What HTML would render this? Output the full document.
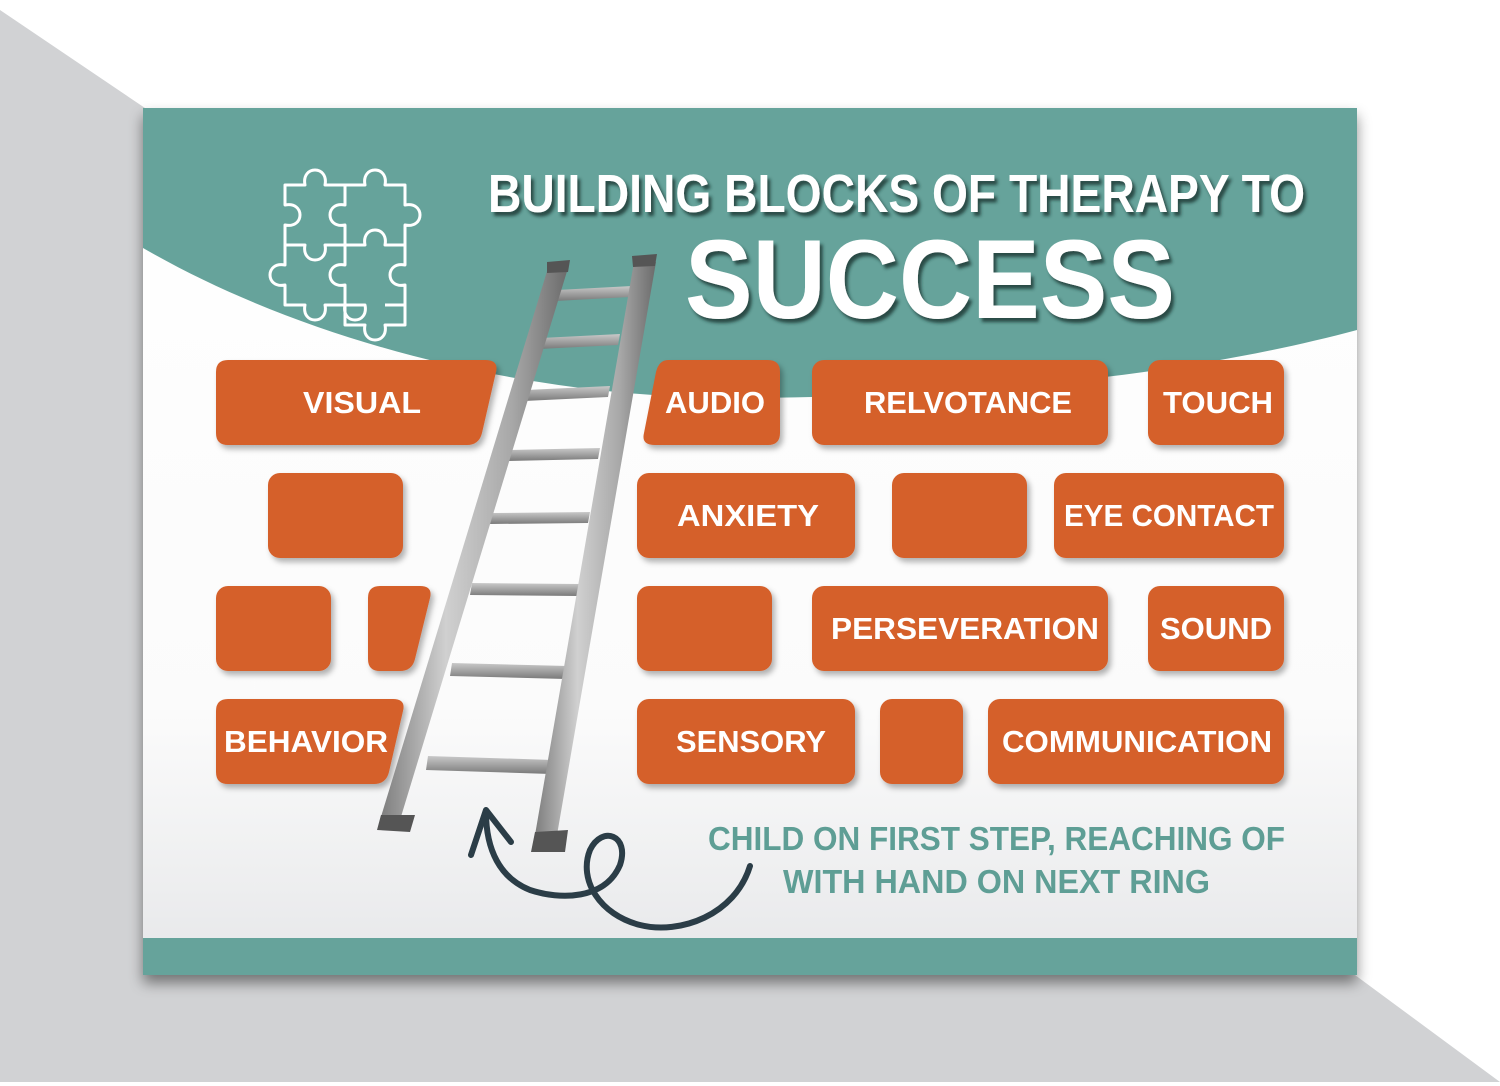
<!DOCTYPE html>
<html><head><meta charset="utf-8"><style>
html,body{margin:0;padding:0;background:#fff;}
svg{display:block}
text{font-family:"Liberation Sans",sans-serif;font-weight:bold;}
</style></head><body>
<svg width="1500" height="1086" viewBox="0 0 1500 1086" xmlns="http://www.w3.org/2000/svg">
<defs>
<linearGradient id="cg" x1="0" y1="0" x2="0" y2="1">
<stop offset="0" stop-color="#ffffff"/><stop offset="0.7" stop-color="#fbfbfb"/><stop offset="1" stop-color="#e6e7e9"/></linearGradient>
<linearGradient id="rail" x1="0" y1="0" x2="1" y2="0">
<stop offset="0" stop-color="#7d7d7d"/><stop offset="0.35" stop-color="#d0d0d0"/><stop offset="0.7" stop-color="#a8a8a8"/><stop offset="1" stop-color="#6b6b6b"/></linearGradient>
<linearGradient id="rung" x1="0" y1="0" x2="0" y2="1">
<stop offset="0" stop-color="#c9c9c9"/><stop offset="1" stop-color="#7a7a7a"/></linearGradient>
<filter id="sh" x="-10%" y="-10%" width="130%" height="140%"><feDropShadow dx="3" dy="4" stdDeviation="3" flood-color="#000" flood-opacity="0.3"/></filter>
<filter id="csh" x="-5%" y="-5%" width="110%" height="115%"><feDropShadow dx="0" dy="8" stdDeviation="7" flood-color="#000" flood-opacity="0.45"/></filter>
<filter id="tsh"><feDropShadow dx="3" dy="4" stdDeviation="1.5" flood-color="#1d3633" flood-opacity="0.8"/></filter>
</defs>
<polygon points="0,10 145,108 145,975 1355,975 1500,1082 0,1082" fill="#d1d2d4"/>
<rect x="143" y="108" width="1214" height="867" fill="url(#cg)" filter="url(#csh)"/>
<path d="M143,108 H1357 V330 C1200,372 1000,396 750,398 C550,400 320,350 143,248 Z" fill="#66a39b"/>
<rect x="143" y="938" width="1214" height="37" fill="#66a39b"/>
<g fill="none" stroke="#fff" stroke-width="3" stroke-linejoin="round">
<path d="M285,185 h20 c-4,-20 24,-20 20,0 h20 v20 c-20,-4 -20,24 0,20 v20 h-20 c4,20 -24,20 -20,0 h-20 v-20 c20,4 20,-24 0,-20 z"/>
<path d="M345,185 h20 c-4,-20 24,-20 20,0 h20 v20 c20,-4 20,24 0,20 v20 h-20 c4,-20 -24,-20 -20,0 h-20"/>
<path d="M285,245 v20 c-20,-4 -20,24 0,20 v20 h20 c-4,20 24,20 20,0 h20 v-20 c-20,4 -20,-24 0,-20 v-20"/>
<path d="M345,305 h20 c4,20 -24,20 -20,0 M385,305 h20 v-20 c-20,4 -20,-24 0,-20 v-20 M345,305 v20 h20 c-4,20 24,20 20,0 h20 v-20"/>
</g>
<g filter="url(#tsh)" fill="#fff">
<text x="488" y="212" font-size="54" textLength="817" lengthAdjust="spacingAndGlyphs">BUILDING BLOCKS OF THERAPY TO</text>
<text x="685" y="318" font-size="112" textLength="490" lengthAdjust="spacingAndGlyphs">SUCCESS</text>
</g>
<g fill="#d5602a" filter="url(#sh)">
<path d="M228,360 H485 Q499,360 496,372 L482,433 Q479,445 467,445 H228 Q216,445 216,433 V372 Q216,360 228,360 Z"/>
<path d="M668,360 H768 Q780,360 780,372 V433 Q780,445 768,445 H655 Q641,445 644,433 L656,372 Q659,360 668,360 Z"/>
<rect x="812" y="360" width="296" height="85" rx="12"/>
<rect x="1148" y="360" width="136" height="85" rx="12"/>
<rect x="268" y="473" width="135" height="85" rx="12"/>
<rect x="637" y="473" width="218" height="85" rx="12"/>
<rect x="892" y="473" width="135" height="85" rx="12"/>
<rect x="1054" y="473" width="230" height="85" rx="12"/>
<rect x="216" y="586" width="115" height="85" rx="12"/>
<path d="M380,586 H420 Q433,586 430,598 L415,659 Q412,671 400,671 H380 Q368,671 368,659 V598 Q368,586 380,586 Z"/>
<rect x="637" y="586" width="135" height="85" rx="12"/>
<rect x="812" y="586" width="296" height="85" rx="12"/>
<rect x="1148" y="586" width="136" height="85" rx="12"/>
<path d="M228,699 H393 Q406,699 403,711 L389,772 Q386,784 374,784 H228 Q216,784 216,772 V711 Q216,699 228,699 Z"/>
<rect x="637" y="699" width="218" height="85" rx="12"/>
<rect x="880" y="699" width="83" height="85" rx="12"/>
<rect x="988" y="699" width="296" height="85" rx="12"/>
</g>
<g fill="#fff" font-size="31" text-anchor="middle">
<text x="362" y="413" textLength="118" lengthAdjust="spacingAndGlyphs">VISUAL</text>
<text x="715" y="413" textLength="100" lengthAdjust="spacingAndGlyphs">AUDIO</text>
<text x="968" y="413" textLength="208" lengthAdjust="spacingAndGlyphs">RELVOTANCE</text>
<text x="1218" y="413" textLength="110" lengthAdjust="spacingAndGlyphs">TOUCH</text>
<text x="748" y="526" textLength="142" lengthAdjust="spacingAndGlyphs">ANXIETY</text>
<text x="1169" y="526" textLength="210" lengthAdjust="spacingAndGlyphs">EYE CONTACT</text>
<text x="965" y="639" textLength="268" lengthAdjust="spacingAndGlyphs">PERSEVERATION</text>
<text x="1216" y="639" textLength="112" lengthAdjust="spacingAndGlyphs">SOUND</text>
<text x="306" y="752" textLength="164" lengthAdjust="spacingAndGlyphs">BEHAVIOR</text>
<text x="751" y="752" textLength="150" lengthAdjust="spacingAndGlyphs">SENSORY</text>
<text x="1137" y="752" textLength="270" lengthAdjust="spacingAndGlyphs">COMMUNICATION</text>
</g>
<g>
<g fill="url(#rung)">
<polygon points="557,290 632,286 630,297 555,301"/>
<polygon points="541,338 620,334 618,345 539,349"/>
<polygon points="526,390 610,386 608,397 524,401"/>
<polygon points="510,450 600,448 598,459 508,461"/>
<polygon points="492,513 590,512 588,523 490,524"/>
<polygon points="472,583 580,584 578,596 470,595"/>
<polygon points="452,663 568,666 566,679 450,676"/>
<polygon points="428,756 553,760 551,774 426,770"/>
</g>
<polygon points="548,268 568,268 400,820 380,820" fill="url(#rail)"/>
<polygon points="634,262 656,262 557,835 535,835" fill="url(#rail)"/>
<polygon points="547,262 570,260 568,272 547,273" fill="#555"/>
<polygon points="632,256 657,254 655,266 633,267" fill="#555"/>
<polygon points="381,815 415,815 410,832 377,830" fill="#555"/>
<polygon points="535,832 568,830 565,852 531,852" fill="#555"/>
</g>
<g fill="none" stroke="#2b3d47" stroke-width="6" stroke-linecap="round">
<path d="M750,866 C735,915 680,935 640,925 C600,915 578,880 590,850 C602,825 630,835 620,865 C605,900 560,900 530,890 C500,878 486,850 486,812"/>
<path d="M486,810 L471,855 M486,810 L511,842"/>
</g>
<g fill="#5e9e95" font-size="33">
<text x="708" y="850" textLength="577" lengthAdjust="spacingAndGlyphs">CHILD ON FIRST STEP, REACHING OF</text>
<text x="783" y="893" textLength="427" lengthAdjust="spacingAndGlyphs">WITH HAND ON NEXT RING</text>
</g>
</svg>
</body></html>
